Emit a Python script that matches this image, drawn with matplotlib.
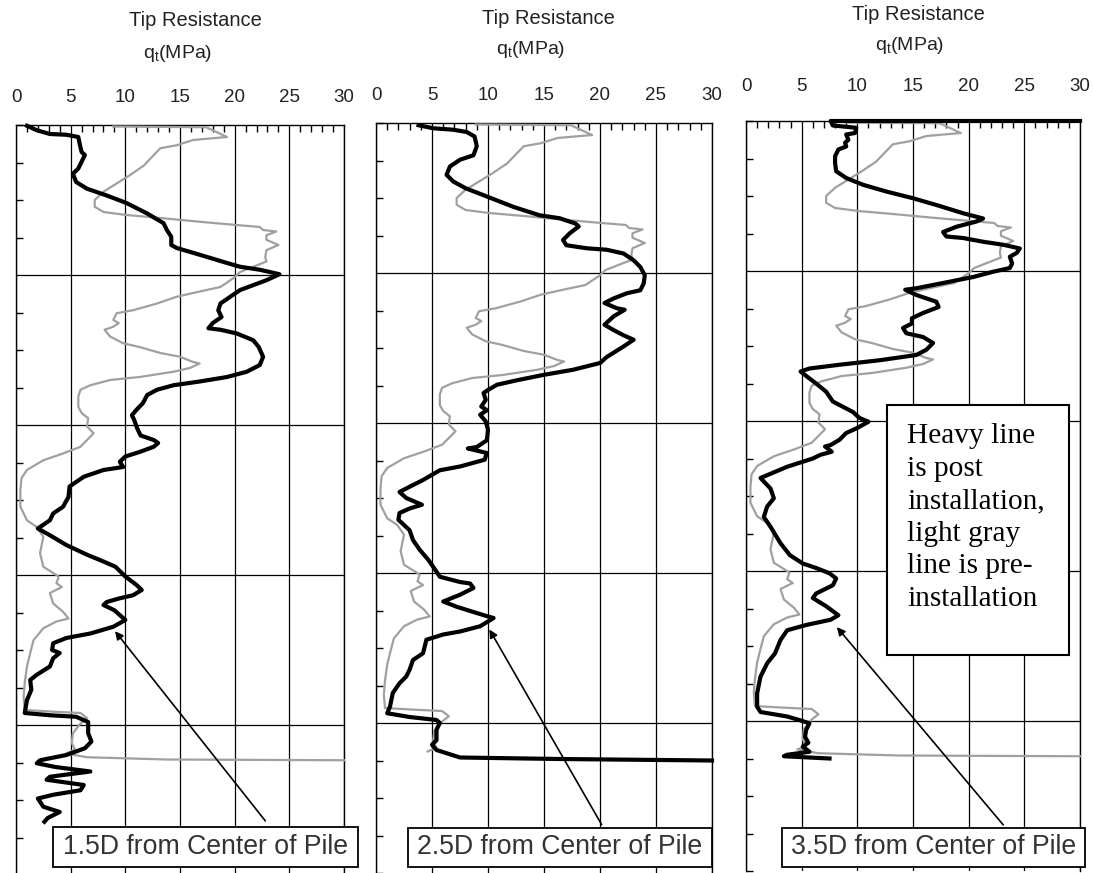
import numpy as np
import matplotlib.pyplot as plt
from matplotlib.patches import Rectangle

plt.rcParams['font.family'] = ['Liberation Sans', 'DejaVu Sans']
plt.rcParams['mathtext.fontset'] = 'custom'
plt.rcParams['mathtext.rm'] = 'Liberation Sans'

# pre-installation profile (light gray), same sounding in every panel
pre_depth = [0.02, 0.03, 0.16, 0.20, 0.27, 0.31, 0.40, 0.54, 0.67, 0.78, 0.89, 1.00, 1.09,
             1.16, 1.20, 1.24, 1.29, 1.33, 1.36, 1.40, 1.42, 1.47, 1.53, 1.60, 1.67, 1.76,
             1.82, 1.89, 1.96, 2.04, 2.16, 2.22, 2.29, 2.38, 2.47, 2.51, 2.60, 2.64, 2.69,
             2.73, 2.82, 2.91, 2.96, 3.04, 3.09, 3.16, 3.18, 3.24, 3.29, 3.36, 3.40, 3.47,
             3.53, 3.62, 3.76, 3.84, 3.91, 4.02, 4.11, 4.29, 4.38, 4.47, 4.60, 4.71, 4.87,
             5.09, 5.27, 5.36, 5.49, 5.71, 5.89, 6.02, 6.11, 6.16, 6.24, 6.38, 6.49, 6.58,
             6.62, 6.71, 6.87, 7.04, 7.22, 7.44, 7.62, 7.80, 7.82, 7.84, 7.91, 7.98, 8.11,
             8.24, 8.33, 8.38]
pre_qt = [8.9, 17.4, 19.3, 16.2, 14.7, 13.2, 12.6, 11.7, 10.4, 9.2, 8.0, 7.2, 7.2,
          8.0, 10.1, 13.2, 16.8, 19.9, 22.3, 22.6, 23.8, 22.9, 22.9, 24.0, 22.9, 22.8,
          22.9, 21.7, 20.5, 19.9, 18.7, 16.8, 14.7, 12.9, 10.7, 9.2, 8.9, 9.4, 8.9,
          8.1, 8.6, 9.8, 11.3, 13.2, 15.0, 16.2, 16.8, 15.9, 14.4, 11.3, 8.6, 6.8,
          5.9, 5.7, 5.7, 6.0, 6.6, 6.5, 7.1, 5.9, 4.3, 2.5, 1.0, 0.5, 0.4,
          0.4, 1.0, 1.9, 2.5, 2.2, 2.5, 3.9, 3.7, 4.2, 3.1, 3.4, 4.3, 4.8,
          3.7, 2.5, 1.6, 1.3, 1.0, 0.8, 0.7, 0.8, 3.1, 5.9, 6.5, 5.9, 5.2,
          5.1, 5.4, 4.6]
pre_tail_depth = [8.43, 8.46, 8.47]
pre_tail_qt = [6.5, 13.8, 30.0]

# post-installation profiles (heavy black)
post15_depth = [0.01, 0.07, 0.12, 0.13, 0.16, 0.27, 0.36, 0.40, 0.49, 0.58, 0.65, 0.76, 0.85,
                0.94, 1.04, 1.18, 1.31, 1.40, 1.49, 1.60, 1.64, 1.73, 1.84, 1.89, 1.93, 1.99,
                2.07, 2.20, 2.29, 2.38, 2.47, 2.56, 2.64, 2.71, 2.73, 2.78, 2.87, 2.96, 3.09,
                3.20, 3.29, 3.36, 3.42, 3.47, 3.53, 3.60, 3.71, 3.80, 3.87, 3.93, 4.05, 4.14,
                4.20, 4.24, 4.29, 4.36, 4.42, 4.49, 4.56, 4.60, 4.69, 4.82, 4.96, 5.09, 5.18,
                5.27, 5.38, 5.47, 5.60, 5.73, 5.82, 5.89, 6.02, 6.13, 6.20, 6.27, 6.31, 6.36,
                6.40, 6.47, 6.60, 6.69, 6.78, 6.84, 6.91, 7.00, 7.04, 7.11, 7.22, 7.33, 7.40,
                7.53, 7.67, 7.84, 7.87, 7.89, 7.96, 8.11, 8.22, 8.31, 8.40, 8.47, 8.51, 8.56,
                8.62, 8.69, 8.73, 8.80, 8.87, 8.93, 8.98, 9.09, 9.16, 9.24, 9.29]
post15_qt = [1.0, 1.9, 3.1, 4.6, 5.7, 5.85, 6.0, 6.3, 6.0, 5.7, 5.2, 5.5, 6.5,
             8.3, 10.1, 12.0, 13.5, 13.8, 14.2, 14.2, 14.7, 16.8, 19.3, 20.5, 22.3, 24.1,
             22.9, 20.5, 19.6, 18.7, 18.5, 18.8, 18.0, 17.6, 18.7, 20.2, 21.7, 22.2, 22.6,
             22.3, 21.1, 19.3, 16.8, 14.4, 12.9, 12.0, 11.6, 11.0, 10.6, 10.8, 11.1, 11.4,
             12.6, 13.0, 12.6, 11.3, 10.0, 9.5, 9.8, 8.0, 6.2, 4.9, 4.8, 4.3, 3.4,
             3.1, 2.0, 3.1, 4.6, 6.5, 8.0, 9.1, 10.0, 11.0, 11.5, 10.7, 9.5, 8.3,
             8.0, 9.0, 10.0, 8.9, 6.8, 4.6, 3.4, 3.3, 4.0, 3.4, 3.1, 1.9, 1.3,
             1.4, 1.0, 0.8, 3.1, 5.5, 6.6, 6.6, 6.9, 6.3, 4.6, 2.2, 1.9, 3.6,
             6.8, 3.1, 2.8, 6.2, 5.9, 3.4, 2.0, 2.5, 4.0, 2.9, 2.6]

post25_depth = [0.03, 0.07, 0.09, 0.12, 0.18, 0.31, 0.43, 0.49, 0.58, 0.69, 0.78, 0.87, 0.98,
                1.12, 1.23, 1.27, 1.34, 1.38, 1.47, 1.56, 1.63, 1.67, 1.69, 1.74, 1.83, 1.92,
                2.03, 2.14, 2.23, 2.27, 2.34, 2.40, 2.47, 2.49, 2.58, 2.69, 2.76, 2.83, 2.89,
                2.98, 3.12, 3.20, 3.29, 3.36, 3.43, 3.49, 3.56, 3.60, 3.69, 3.78, 3.83, 3.89,
                3.98, 4.09, 4.23, 4.32, 4.34, 4.40, 4.49, 4.58, 4.63, 4.76, 4.85, 4.92, 5.00,
                5.09, 5.14, 5.20, 5.29, 5.43, 5.56, 5.69, 5.83, 5.96, 6.05, 6.12, 6.14, 6.20,
                6.29, 6.38, 6.45, 6.52, 6.58, 6.60, 6.71, 6.78, 6.82, 6.89, 7.07, 7.16, 7.29,
                7.38, 7.47, 7.60, 7.78, 7.87, 7.92, 7.96, 8.00, 8.09, 8.23, 8.29, 8.36, 8.46,
                8.48, 8.50]
post25_qt = [3.8, 5.1, 6.9, 8.1, 8.8, 9.0, 8.7, 7.5, 6.6, 6.3, 6.9, 8.0, 9.9,
             12.3, 14.6, 16.4, 17.8, 18.1, 17.3, 16.7, 17.0, 18.8, 20.6, 22.1, 23.0, 23.6,
             24.0, 23.9, 23.6, 22.4, 21.2, 20.4, 21.5, 22.2, 21.2, 20.4, 21.2, 22.1, 23.0,
             22.1, 20.6, 20.0, 17.6, 14.9, 12.6, 10.8, 10.0, 9.6, 9.8, 9.4, 9.9, 9.3,
             9.8, 10.0, 9.9, 9.0, 8.2, 9.9, 9.7, 7.5, 5.7, 4.2, 3.0, 2.1, 2.7,
             4.1, 3.0, 2.1, 2.0, 3.0, 3.3, 3.9, 4.7, 5.3, 5.7, 7.5, 8.4, 8.7,
             7.5, 6.0, 7.2, 8.7, 10.0, 10.5, 9.3, 7.5, 6.0, 4.5, 4.2, 3.3, 3.0,
             2.7, 2.1, 1.5, 1.25, 1.0, 3.0, 5.4, 5.7, 5.4, 5.4, 5.0, 5.4, 7.5,
             16.4, 30.0]

post35_depth = [0.0, 0.0, 0.06, 0.09, 0.16, 0.18, 0.25, 0.29, 0.34, 0.38, 0.47, 0.56, 0.67,
                0.76, 0.85, 0.94, 1.03, 1.12, 1.23, 1.30, 1.34, 1.41, 1.48, 1.54, 1.56, 1.61,
                1.65, 1.70, 1.76, 1.81, 1.90, 1.96, 2.01, 2.08, 2.16, 2.23, 2.25, 2.32, 2.41,
                2.48, 2.56, 2.63, 2.70, 2.76, 2.83, 2.88, 2.96, 3.05, 3.12, 3.19, 3.25, 3.30,
                3.34, 3.41, 3.50, 3.61, 3.74, 3.81, 3.88, 3.96, 4.01, 4.10, 4.16, 4.25, 4.32,
                4.34, 4.41, 4.45, 4.50, 4.61, 4.76, 4.90, 5.03, 5.14, 5.28, 5.41, 5.63, 5.79,
                5.90, 5.96, 6.03, 6.10, 6.19, 6.30, 6.36, 6.47, 6.59, 6.65, 6.72, 6.79, 6.92,
                7.10, 7.23, 7.41, 7.63, 7.81, 7.88, 7.94, 7.99, 8.03, 8.12, 8.21, 8.29, 8.34,
                8.41, 8.45, 8.47, 8.50]
post35_qt = [30.0, 7.6, 7.8, 9.9, 9.8, 9.0, 9.2, 8.9, 9.0, 8.3, 8.0, 8.0, 8.1,
             9.0, 10.5, 12.6, 15.0, 17.1, 19.5, 21.3, 20.7, 18.9, 17.7, 18.0, 19.5, 21.3,
             23.1, 24.6, 24.3, 23.7, 23.9, 23.7, 22.2, 20.4, 17.7, 15.3, 14.3, 15.3, 17.1,
             17.3, 15.9, 14.9, 14.9, 14.1, 14.4, 15.9, 16.8, 16.2, 15.3, 12.0, 8.4, 5.7,
             4.9, 5.5, 6.3, 7.2, 7.8, 8.7, 9.6, 10.2, 11.0, 9.9, 9.0, 8.4, 7.6,
             7.1, 7.7, 6.7, 6.0, 3.7, 1.3, 2.2, 2.5, 1.9, 1.6, 2.2, 3.1, 3.95,
             5.1, 6.3, 7.5, 8.1, 7.8, 6.3, 6.0, 7.2, 8.3, 7.6, 5.4, 3.7, 3.1,
             2.6, 1.9, 1.3, 1.0, 1.0, 1.3, 3.7, 4.85, 5.7, 5.4, 5.3, 5.6, 5.1,
             5.7, 3.7, 3.4, 7.5]

x_ticks = [0, 5, 10, 15, 20, 25, 30]
labels = ['1.5D from Center of Pile', '2.5D from Center of Pile', '3.5D from Center of Pile']
note = 'Heavy line\nis post\ninstallation,\nlight gray\nline is pre-\ninstallation'

W, H = 1094, 873


def fx(px):
    return px / W


def fy(py):
    return 1 - py / H


fig = plt.figure(figsize=(W / 100, H / 100), dpi=100)

# pixel layout of each panel, its titles, label box and arrow
panels = [
    dict(left=16, right=344, top=125, pad=14, ty=20, qy=53, tx=195, qx=178,
         box=(53, 827, 358, 867), start=(267, 823), tip=(8.9, 6.72),
         post=(post15_depth, post15_qt), tail=True),
    dict(left=376, right=712, top=123, pad=14, ty=18, qy=50, tx=548, qx=531,
         box=(408, 828, 712, 867), start=(603, 827), tip=(10.0, 6.72),
         post=(post25_depth, post25_qt), tail=False),
    dict(left=746, right=1080, top=121, pad=19, ty=15, qy=45, tx=918, qx=910,
         box=(782, 828, 1085, 867), start=(1005, 827), tip=(8.0, 6.72),
         post=(post35_depth, post35_qt), tail=True),
]

for p, label in zip(panels, labels):
    ax = fig.add_axes([fx(p['left']), fy(p['top'] + 750),
                       (p['right'] - p['left']) / W, 750 / H])
    ax.set_xlim(0, 30)
    ax.set_ylim(10, 0)

    gx = list(pre_qt)
    gy = list(pre_depth)
    if p['tail']:
        gx += pre_tail_qt
        gy += pre_tail_depth
    ax.plot(gx, gy, color='#a0a0a0', lw=1.6, clip_on=False, zorder=3)
    ax.plot(p['post'][1], p['post'][0], color='black', lw=3.0, clip_on=False, zorder=4)

    ax.xaxis.tick_top()
    ax.set_xticks(x_ticks)
    ax.set_xticks(range(0, 31), minor=True)
    ax.set_yticks([2, 4, 6, 8])
    ax.set_yticks(np.arange(0, 10.01, 0.5), minor=True)
    ax.tick_params(axis='x', which='major', length=0, pad=p['pad'], labelsize=13.5,
                   labelcolor='#222222')
    ax.tick_params(axis='x', which='minor', length=5, direction='in', width=1)
    ax.tick_params(axis='y', which='major', length=0, labelleft=False)
    ax.tick_params(axis='y', which='minor', length=5, direction='in', width=1)
    ax.grid(True, which='major', color='black', lw=0.9)
    ax.spines['bottom'].set_visible(False)
    for s in ['top', 'left', 'right']:
        ax.spines[s].set_linewidth(1.0)

    fig.text(fx(p['tx']), fy(p['ty']), 'Tip Resistance', ha='center', va='center',
             fontsize=14.5, color='#222222')
    fig.text(fx(p['qx']), fy(p['qy']), r'q$_\mathrm{t}$(MPa)', ha='center', va='center',
             fontsize=14, color='#222222')

    x0, y0, x1, y1 = p['box']
    ax.annotate('', xy=p['tip'], xycoords='data',
                xytext=(p['start'][0], H - p['start'][1]), textcoords='figure pixels',
                arrowprops=dict(arrowstyle='-|>', color='black', lw=1.2, mutation_scale=12),
                annotation_clip=False, zorder=5)
    fig.add_artist(Rectangle((fx(x0), fy(y1)), (x1 - x0) / W, (y1 - y0) / H,
                             transform=fig.transFigure, facecolor='white',
                             edgecolor='black', lw=1.3, zorder=10))
    fig.text(fx((x0 + x1) / 2), fy((y0 + y1) / 2), label, ha='center', va='center',
             fontsize=19.2, color='#333333', zorder=11)

fig.add_artist(Rectangle((fx(887), fy(655)), (1069 - 887) / W, (655 - 405) / H,
                         transform=fig.transFigure, facecolor='white',
                         edgecolor='black', lw=1.5, zorder=10))
fig.text(fx(907), fy(423), note, ha='left', va='top', fontsize=21.2,
         family='Liberation Serif', linespacing=1.33, zorder=11)

fig.savefig('out.png', dpi=100, facecolor='white')
